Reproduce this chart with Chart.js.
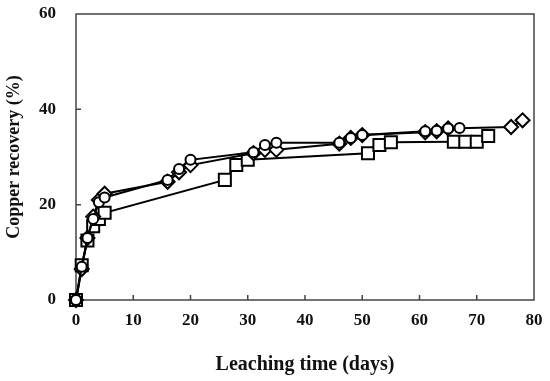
<!DOCTYPE html>
<html>
<head>
<meta charset="utf-8">
<script src="https://cdn.jsdelivr.net/npm/chart.js@4"></script>
<style>
  body { margin: 0; background: #fff; }
  #wrap { width: 550px; height: 381px; }
</style>
</head>
<body>
<div id="wrap"><canvas id="myChart"></canvas></div>
<script>
// Leaching data (days / % recovery)
const circleDays = [0, 1, 2, 3, 4, 5, 16, 18, 20, 31, 33, 35, 46, 48, 50, 61, 63, 65, 67];
const circleVals = [0, 7, 13, 17, 20.5, 21.5, 25.2, 27.5, 29.4, 31, 32.5, 33, 33, 34, 34.6, 35.4, 35.5, 36, 36.1];

const diamondDays = [0, 1, 2, 3, 4, 5, 16, 18, 20, 31, 33, 35, 46, 48, 50, 61, 63, 65, 76, 78];
const diamondVals = [0, 6.5, 13, 17.5, 21, 22.3, 24.8, 26.8, 28.3, 30.8, 31.5, 31.5, 32.8, 34, 34.6, 35.2, 35.4, 36, 36.3, 37.7];

const squareDays = [0, 1, 2, 3, 4, 5, 26, 28, 30, 51, 53, 55, 66, 68, 70, 72];
const squareVals = [0, 7.3, 12.5, 15.5, 17, 18.3, 25.2, 28.3, 29.4, 30.8, 32.5, 33.1, 33.2, 33.2, 33.2, 34.4];

const xTicks = [0, 10, 20, 30, 40, 50, 60, 70, 80];
const yTicks = [0, 20, 40, 60];

function toPoints(days, vals) {
    return days.map((d, i) => ({ x: d, y: vals[i] }));
}

function series(label, days, vals, style, radius) {
    return {
        label: label,
        data: toPoints(days, vals),
        showLine: true,
        clip: false,
        borderColor: '#000',
        borderWidth: 2,
        pointStyle: style,
        pointRadius: radius,
        pointBorderWidth: 2,
        pointBorderColor: '#000',
        pointBackgroundColor: '#fff',
        tension: 0
    };
}

// frame around the plot + inward tick marks
const framePlugin = {
    id: 'frame',
    beforeDatasetsDraw(chart) {
        const c = chart.ctx;
        const a = chart.chartArea;
        const xs = chart.scales.x, ys = chart.scales.y;
        c.save();
        c.strokeStyle = '#444';
        c.lineWidth = 1.5;
        c.strokeRect(a.left, a.top, a.right - a.left, a.bottom - a.top);
        c.beginPath();
        xTicks.slice(1, -1).forEach(v => {
            const px = xs.getPixelForValue(v);
            c.moveTo(px, a.bottom);
            c.lineTo(px, a.bottom - 5);
        });
        yTicks.slice(1, -1).forEach(v => {
            const py = ys.getPixelForValue(v);
            c.moveTo(a.left, py);
            c.lineTo(a.left + 5, py);
        });
        c.stroke();
        c.restore();
    }
};

const ctx = document.getElementById('myChart').getContext('2d');
const font = { family: '"Liberation Serif", "DejaVu Serif", serif', weight: 'bold', size: 17 };

function noPad(s) {
    s.paddingTop = 0; s.paddingBottom = 0;
    s.paddingLeft = 0; s.paddingRight = 0;
}

new Chart(ctx, {
    type: 'scatter',
    data: {
        datasets: [
            series('Circle', circleDays, circleVals, 'circle', 5),
            series('Diamond', diamondDays, diamondVals, 'rectRot', 7),
            series('Square', squareDays, squareVals, 'rect', 8.5)
        ]
    },
    options: {
        responsive: true,
        maintainAspectRatio: false,
        animation: false,
        layout: { padding: { top: 14, right: 16, left: 0, bottom: 0 } },
        scales: {
            x: {
                type: 'linear',
                min: 0, max: 80,
                afterFit: s => { s.height = 81; noPad(s); },
                afterBuildTicks: s => { s.ticks = xTicks.map(v => ({ value: v })); },
                grid: { display: false, drawTicks: false },
                border: { display: false },
                ticks: { color: '#111', font: font, padding: 10, maxRotation: 0 },
                title: { display: true, text: 'Leaching time (days)', color: '#111', font: { ...font, size: 20 }, padding: { top: 1 } }
            },
            y: {
                type: 'linear',
                min: 0, max: 60,
                afterFit: s => { s.width = 76; noPad(s); },
                afterBuildTicks: s => { s.ticks = yTicks.map(v => ({ value: v })); },
                grid: { display: false, drawTicks: false },
                border: { display: false },
                ticks: { color: '#111', font: font, padding: 20 },
                title: { display: true, text: 'Copper recovery (%)', color: '#111', font: { ...font, size: 18 }, padding: { bottom: 4 } }
            }
        },
        plugins: {
            legend: { display: false },
            tooltip: { enabled: false }
        }
    },
    plugins: [framePlugin]
});
</script>
</body>
</html>
